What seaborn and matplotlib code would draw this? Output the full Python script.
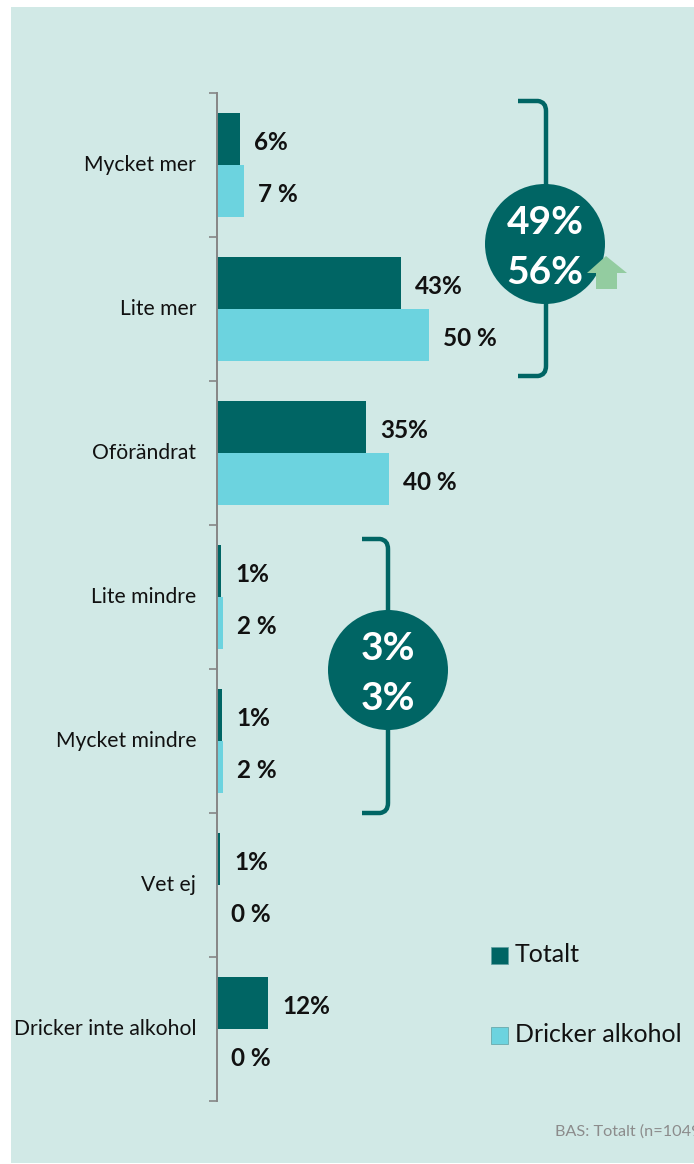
import pandas
import numpy as np
import matplotlib
matplotlib.use("Agg")
import matplotlib.pyplot as plt
from matplotlib.patches import Circle, PathPatch, Polygon
from matplotlib.path import Path
import seaborn as sns

categories = [
    "Mycket mer",
    "Lite mer",
    "Oförändrat",
    "Lite mindre",
    "Mycket mindre",
    "Vet ej",
    "Dricker inte alkohol",
]
totalt = [5.5, 43, 35, 1.0, 1.2, 0.8, 12]
dricker = [6.4, 49.7, 40.2, 1.4, 1.5, 0, 0]
totalt_labels = ["6%", "43%", "35%", "1%", "1%", "1%", "12%"]
dricker_labels = ["7 %", "50 %", "40 %", "2 %", "2 %", "0 %", "0 %"]
series_names = ["Totalt", "Dricker alkohol"]
source_text = "BAS: Totalt (n=1049)"

BG = "#D1E9E6"
DARK = "#006564"
LIGHT = "#6CD3DF"
GREY = "#868686"
W, H = 694, 1164

sns.set_theme(style="white")
plt.rcParams["font.family"] = ["Lato", "DejaVu Sans"]

df = pandas.DataFrame(
    {
        "category": categories * 2,
        "value": totalt + dricker,
        "series": [series_names[0]] * 7 + [series_names[1]] * 7,
    }
)

fig = plt.figure(figsize=(W / 100, H / 100), dpi=100, facecolor="white")

# panel and decorations are drawn in pixel coordinates on a full figure axes
deco = fig.add_axes([0, 0, 1, 1])
deco.set_xlim(0, W)
deco.set_ylim(H, 0)
deco.axis("off")
deco.add_patch(plt.Rectangle((11, 7), W - 11, 1156, color=BG, lw=0))

ax = fig.add_axes([217 / W, (H - 1101) / H, (W - 217) / W, (1101 - 93) / H])
ax.patch.set_alpha(0)
sns.barplot(
    data=df,
    y="category",
    x="value",
    hue="series",
    palette=[DARK, LIGHT],
    width=0.722,
    saturation=1,
    linewidth=0,
    legend=False,
    ax=ax,
)
ax.set_xlim(0, (W - 217) / 4.27)
ax.set_ylim(6.5, -0.5)
ax.set_xlabel("")
ax.set_ylabel("")
ax.xaxis.set_visible(False)
for side in ["top", "right", "bottom"]:
    ax.spines[side].set_visible(False)
ax.spines["left"].set_color(GREY)
ax.spines["left"].set_linewidth(1.4)

ax.set_yticks(range(7))
ax.set_yticklabels(categories, fontsize=15.2, color="#111111", va="center")
ax.tick_params(axis="y", which="major", length=0, pad=15)
ax.set_yticks(np.arange(-0.5, 7), minor=True)
ax.tick_params(axis="y", which="minor", length=5.5, width=1.2, color=GREY, left=True)

# value labels next to each bar
for i in range(7):
    ax.annotate(totalt_labels[i], (totalt[i], i - 0.18), xytext=(10, -2.6),
                textcoords="offset points", va="center", ha="left",
                fontsize=17.5, fontweight="bold", color="#111111")
    ax.annotate(dricker_labels[i], (dricker[i], i + 0.18), xytext=(10, -2.6),
                textcoords="offset points", va="center", ha="left",
                fontsize=17.5, fontweight="bold", color="#111111")


def bracket(x0, x1, y0, y1):
    verts = [(x0, y0), (x1 - 8, y0), (x1, y0 + 1), (x1, y0 + 10), (x1, y1 - 10),
             (x1, y1 - 1), (x1 - 8, y1), (x0, y1)]
    codes = [Path.MOVETO, Path.LINETO, Path.CURVE3, Path.CURVE3, Path.LINETO,
             Path.CURVE3, Path.CURVE3, Path.LINETO]
    deco.add_patch(PathPatch(Path(verts, codes), fill=False, ec=DARK, lw=3.2, zorder=3))


bracket(518, 546, 101, 376)
bracket(362, 388, 539, 813)
deco.add_patch(Circle((545, 244), 60, color=DARK, lw=0, zorder=4))
deco.add_patch(Circle((388, 670), 60, color=DARK, lw=0, zorder=4))
deco.add_patch(Polygon([(606, 256), (627, 273), (617, 273), (617, 289), (596, 289),
                        (596, 273), (587, 273)], color="#93CCA0", lw=0, zorder=5))

for x, y, s in [(545, 223, "49%"), (545, 273, "56%"), (388, 648, "3%"), (388, 698, "3%")]:
    deco.text(x, y, s, color="white", fontsize=28, fontweight="bold",
              ha="center", va="center", zorder=6)

# legend
for y, colour, name in [(955, DARK, series_names[0]), (1035, LIGHT, series_names[1])]:
    deco.add_patch(plt.Rectangle((491, y - 8), 17, 17, fc=colour, ec="#5f9ea0", lw=0.5))
    deco.text(515, y, name, fontsize=18, color="#111111", va="center", ha="left")

# runs off the right edge in the original too
deco.text(555, 1132, source_text, fontsize=11.7, color="#8c8c8c", va="center", ha="left")

fig.savefig("out.png", dpi=100)
